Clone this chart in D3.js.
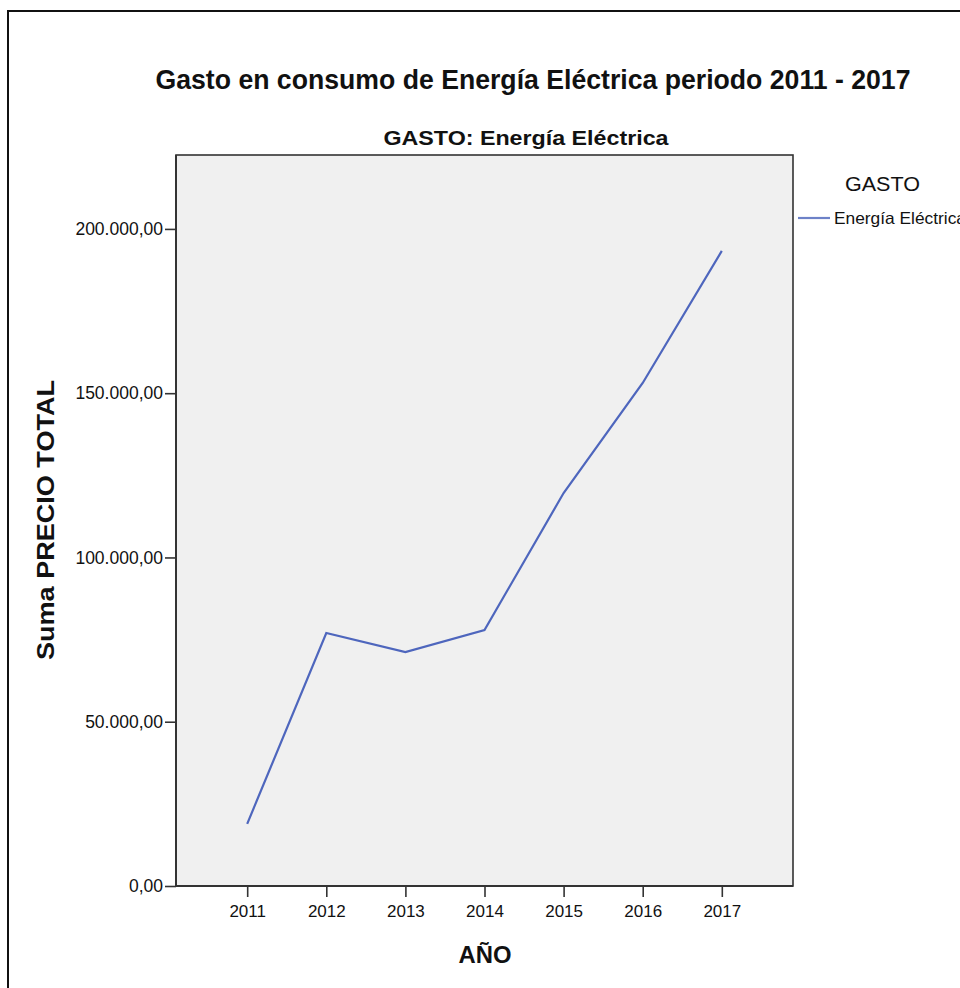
<!DOCTYPE html>
<html>
<head>
<meta charset="utf-8">
<script src="https://cdn.jsdelivr.net/npm/d3@7"></script>
<style>
  html, body { margin: 0; padding: 0; background: #fff; }
  svg { display: block; }
  text { font-family: "Liberation Sans", Arial, sans-serif; fill: #111; }
</style>
</head>
<body>
<svg id="chart" width="960" height="988"></svg>
<script>
// Yearly electricity spending
const years = ["2011", "2012", "2013", "2014", "2015", "2016", "2017"];
const gasto = [18900, 77000, 71200, 77900, 119600, 153100, 193300];
const yTicks = [0, 50000, 100000, 150000, 200000];
const seriesName = "Energía Eléctrica";

const svg = d3.select("#chart");
const W = 960, H = 988;
const plot = { left: 176, right: 793, top: 155, bottom: 886 };

// outer frame (right and bottom edges fall outside the page)
svg.append("rect")
  .attr("x", 8).attr("y", 11)
  .attr("width", W + 20).attr("height", H + 20)
  .attr("fill", "#fff").attr("stroke", "#111").attr("stroke-width", 2);

const x = d3.scalePoint().domain(years).range([plot.left, plot.right]).padding(0.9);
const y = d3.scaleLinear().domain([0, 222500]).range([plot.bottom, plot.top]);

// plot area
svg.append("rect")
  .attr("x", plot.left).attr("y", plot.top)
  .attr("width", plot.right - plot.left).attr("height", plot.bottom - plot.top)
  .attr("fill", "#f0f0f0").attr("stroke", "#333").attr("stroke-width", 1.6);

// number format with dot thousands and comma decimals
const fmt = d3.formatLocale({ decimal: ",", thousands: ".", grouping: [3], currency: ["", ""] }).format(",.2f");

const yAxis = svg.append("g")
  .attr("transform", `translate(${plot.left},0)`)
  .call(d3.axisLeft(y).tickValues(yTicks).tickFormat(fmt).tickSize(11).tickPadding(2));
yAxis.select(".domain").remove();
yAxis.selectAll(".tick line").attr("stroke", "#333").attr("stroke-width", 1.6);
yAxis.selectAll(".tick text")
  .style("font-family", "'Liberation Sans', Arial, sans-serif")
  .style("font-size", "17.5px").attr("fill", "#222");

const xAxis = svg.append("g")
  .attr("transform", `translate(0,${plot.bottom})`)
  .call(d3.axisBottom(x).tickSize(11).tickPadding(8));
xAxis.select(".domain").remove();
xAxis.selectAll(".tick line").attr("stroke", "#333").attr("stroke-width", 1.6);
xAxis.selectAll(".tick text")
  .style("font-family", "'Liberation Sans', Arial, sans-serif")
  .style("font-size", "17px").attr("fill", "#222");

// redraw the left and bottom frame lines over the tick joins
svg.append("line")
  .attr("x1", plot.left).attr("x2", plot.right)
  .attr("y1", plot.bottom).attr("y2", plot.bottom)
  .attr("stroke", "#333").attr("stroke-width", 2);
svg.append("line")
  .attr("x1", plot.left).attr("x2", plot.left)
  .attr("y1", plot.top).attr("y2", plot.bottom)
  .attr("stroke", "#333").attr("stroke-width", 2);

// data line
const line = d3.line().x((d, i) => x(years[i])).y(d => y(d));
svg.append("path")
  .datum(gasto)
  .attr("d", line)
  .attr("fill", "none")
  .attr("stroke", "#4e66bd")
  .attr("stroke-width", 2.2);

// titles
svg.append("text")
  .attr("x", 533).attr("y", 89)
  .attr("text-anchor", "middle")
  .attr("textLength", 755).attr("lengthAdjust", "spacingAndGlyphs")
  .style("font-size", "27px").style("font-weight", "bold")
  .text("Gasto en consumo de Energía Eléctrica periodo 2011 - 2017");

svg.append("text")
  .attr("x", 526).attr("y", 145)
  .attr("text-anchor", "middle")
  .attr("textLength", 285).attr("lengthAdjust", "spacingAndGlyphs")
  .style("font-size", "20px").style("font-weight", "bold")
  .text("GASTO: " + seriesName);

// axis titles
svg.append("text")
  .attr("x", 485).attr("y", 963)
  .attr("text-anchor", "middle")
  .attr("textLength", 53).attr("lengthAdjust", "spacingAndGlyphs")
  .style("font-size", "24px").style("font-weight", "bold")
  .text("AÑO");

svg.append("text")
  .attr("transform", "translate(54,520) rotate(-90)")
  .attr("text-anchor", "middle")
  .attr("textLength", 280).attr("lengthAdjust", "spacingAndGlyphs")
  .style("font-size", "23px").style("font-weight", "bold")
  .text("Suma PRECIO TOTAL");

// legend
svg.append("text")
  .attr("x", 845).attr("y", 191)
  .attr("textLength", 75).attr("lengthAdjust", "spacingAndGlyphs")
  .style("font-size", "20px").attr("fill", "#222")
  .text("GASTO");
svg.append("line")
  .attr("x1", 798).attr("x2", 830).attr("y1", 218).attr("y2", 218)
  .attr("stroke", "#6d82c8").attr("stroke-width", 2.2);
svg.append("text")
  .attr("x", 834).attr("y", 224)
  .attr("textLength", 132).attr("lengthAdjust", "spacingAndGlyphs")
  .style("font-size", "16.5px").attr("fill", "#222")
  .text(seriesName);
</script>
</body>
</html>
